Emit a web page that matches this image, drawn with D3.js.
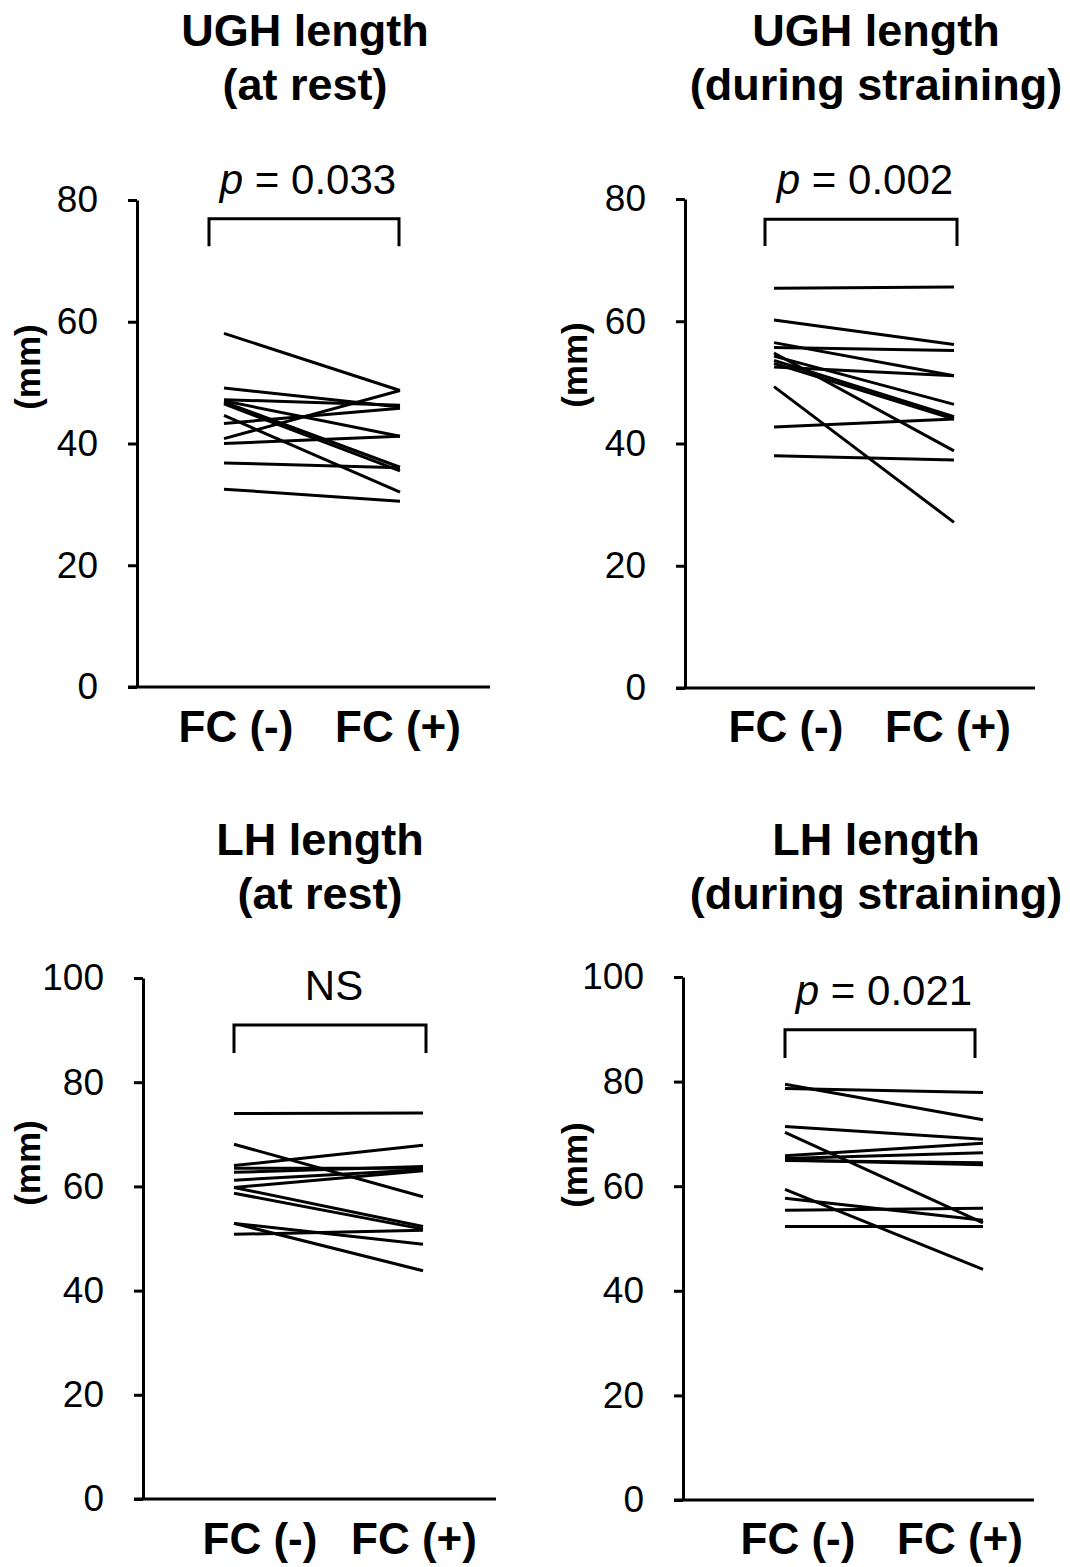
<!DOCTYPE html>
<html>
<head>
<meta charset="utf-8">
<script src="https://cdn.jsdelivr.net/npm/d3@7"></script>
<style>
  body { margin: 0; background: #fff; }
  svg text { font-family: "Liberation Sans", Arial, sans-serif; fill: #000; }
</style>
</head>
<body>
<svg id="chart" width="1070" height="1567"></svg>
<script>
// categories
var groups = ["FC (-)", "FC (+)"];

// UGH length at rest
var ughRestNeg = [58.1, 49.1, 47.2, 47.0, 46.8, 46.5, 44.6, 43.3, 40.8, 40.0, 36.8, 32.5];
var ughRestPos = [48.7, 46.0, 46.3, 41.2, 36.1, 35.5, 32.0, 45.8, 48.7, 41.2, 36.0, 30.5];

// UGH length during straining
var ughStrainNeg = [65.4, 60.2, 56.5, 55.7, 54.8, 54.3, 53.6, 53.1, 52.5, 49.3, 42.7, 38.0];
var ughStrainPos = [65.6, 56.2, 51.1, 55.2, 38.8, 46.4, 44.4, 44.0, 51.1, 27.1, 44.0, 37.3];

// LH length at rest
var lhRestNeg = [74.0, 68.1, 64.0, 63.5, 62.7, 61.2, 59.8, 59.8, 58.7, 52.9, 52.9, 50.8];
var lhRestPos = [74.1, 58.0, 67.9, 63.5, 63.8, 63.2, 63.0, 52.3, 51.8, 48.9, 43.8, 51.6];

// LH length during straining
var lhStrainNeg = [79.5, 78.7, 71.4, 70.3, 65.8, 65.3, 65.0, 64.9, 59.4, 57.7, 55.4, 52.3];
var lhStrainPos = [72.7, 77.9, 69.0, 53.0, 68.2, 66.4, 64.1, 64.5, 44.1, 53.5, 55.8, 52.3];

// y ticks
var ughTicks = [0, 20, 40, 60, 80];
var lhTicks = [0, 20, 40, 60, 80, 100];

// significance labels and bracket heights (data units)
var pLabels = ["0.033", "0.002", "NS", "0.021"];
var bracketTop = [76.9, 76.7, 91.0, 89.9];
var bracketLow = [72.4, 72.3, 85.6, 84.5];

var panels = [
  { title: ["UGH length", "(at rest)"], neg: ughRestNeg, pos: ughRestPos, ticks: ughTicks, p: pLabels[0], bt: bracketTop[0], bl: bracketLow[0],
    ax: 137, y0: 687, y1: 200, xEnd: 490, lx: [224, 400], bx: [209, 399], cx: [236, 398], tx: 305, ty: 46, cy: 742, mm: [28, 367] },
  { title: ["UGH length", "(during straining)"], neg: ughStrainNeg, pos: ughStrainPos, ticks: ughTicks, p: pLabels[1], bt: bracketTop[1], bl: bracketLow[1],
    ax: 685, y0: 688, y1: 199, xEnd: 1035, lx: [774, 954], bx: [765, 957], cx: [786, 948], tx: 876, ty: 46, cy: 742, mm: [575, 365] },
  { title: ["LH length", "(at rest)"], neg: lhRestNeg, pos: lhRestPos, ticks: lhTicks, p: pLabels[2], bt: bracketTop[2], bl: bracketLow[2],
    ax: 143, y0: 1499, y1: 978, xEnd: 496, lx: [234, 423], bx: [234, 426], cx: [260, 414], tx: 320, ty: 855, cy: 1554, mm: [28, 1163] },
  { title: ["LH length", "(during straining)"], neg: lhStrainNeg, pos: lhStrainPos, ticks: lhTicks, p: pLabels[3], bt: bracketTop[3], bl: bracketLow[3],
    ax: 683, y0: 1500, y1: 977, xEnd: 1034, lx: [785, 983], bx: [785, 975], cx: [798, 960], tx: 876, ty: 855, cy: 1554, mm: [575, 1165] }
];

var svg = d3.select("#chart");

panels.forEach(function(c) {
  var g = svg.append("g");

  var y = d3.scaleLinear()
    .domain([0, d3.max(c.ticks)])
    .range([c.y0, c.y1]);
  var x = d3.scalePoint().domain(groups).range(c.lx);
  var xb = d3.scalePoint().domain(groups).range(c.bx);

  // title
  g.selectAll(".title")
    .data(c.title)
    .enter().append("text")
    .attr("x", c.tx)
    .attr("y", function(d, i) { return c.ty + i * 54; })
    .attr("text-anchor", "middle")
    .style("font-size", "45px")
    .style("font-weight", "bold")
    .text(function(d) { return d; });

  // y axis
  var yAxis = d3.axisLeft(y)
    .tickValues(c.ticks)
    .tickSize(9)
    .tickSizeOuter(0)
    .tickPadding(30)
    .tickFormat(d3.format("d"));

  var ag = g.append("g")
    .attr("transform", "translate(" + c.ax + ",0)")
    .call(yAxis);
  ag.select(".domain").attr("stroke", "#000").attr("stroke-width", 3);
  ag.selectAll(".tick line").attr("stroke", "#000").attr("stroke-width", 3);
  ag.selectAll(".tick text")
    .style("font-size", "37px")
    .style("font-family", "'Liberation Sans', Arial, sans-serif")
    .attr("fill", "#000");

  // x axis baseline
  g.append("line")
    .attr("x1", c.ax - 9).attr("x2", c.xEnd)
    .attr("y1", y(0)).attr("y2", y(0))
    .attr("stroke", "#000").attr("stroke-width", 3);

  // category labels
  g.selectAll(".cat")
    .data(groups)
    .enter().append("text")
    .attr("x", function(d, i) { return c.cx[i]; })
    .attr("y", c.cy)
    .attr("text-anchor", "middle")
    .style("font-size", "44px")
    .style("font-weight", "bold")
    .text(function(d) { return d; });

  // y label
  g.append("text")
    .attr("transform", "translate(" + c.mm[0] + "," + c.mm[1] + ") rotate(-90)")
    .attr("text-anchor", "middle")
    .attr("dy", "0.35em")
    .style("font-size", "35px")
    .style("font-weight", "bold")
    .text("(mm)");

  // paired lines
  var pairs = c.neg.map(function(v, i) { return [v, c.pos[i]]; });
  g.selectAll(".pair")
    .data(pairs)
    .enter().append("line")
    .attr("x1", x(groups[0])).attr("x2", x(groups[1]))
    .attr("y1", function(d) { return y(d[0]); })
    .attr("y2", function(d) { return y(d[1]); })
    .attr("stroke", "#000")
    .attr("stroke-width", 3);

  // bracket
  var bpath = d3.path();
  bpath.moveTo(xb(groups[0]), y(c.bl));
  bpath.lineTo(xb(groups[0]), y(c.bt));
  bpath.lineTo(xb(groups[1]), y(c.bt));
  bpath.lineTo(xb(groups[1]), y(c.bl));
  g.append("path")
    .attr("d", bpath.toString())
    .attr("fill", "none")
    .attr("stroke", "#000")
    .attr("stroke-width", 3);

  // significance label
  var mid = (xb(groups[0]) + xb(groups[1])) / 2;
  var lab = g.append("text")
    .attr("x", mid + 4)
    .attr("y", y(c.bt) - 25)
    .attr("text-anchor", "middle")
    .style("font-size", "42px");
  if (c.p === "NS") {
    lab.text("NS");
  } else {
    lab.append("tspan").style("font-style", "italic").text("p");
    lab.append("tspan").text(" = " + c.p);
  }
});
</script>
</body>
</html>
